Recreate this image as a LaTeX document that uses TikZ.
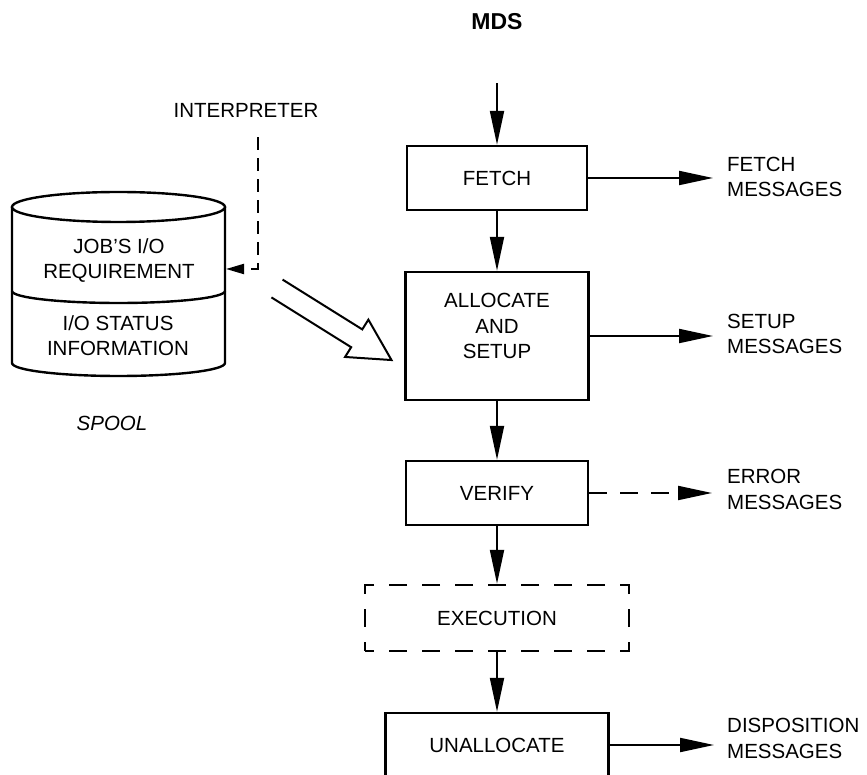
\documentclass[tikz,border=0pt]{standalone}
\usepackage{fontspec}
\setmainfont{Liberation Sans}
\usetikzlibrary{arrows.meta,backgrounds}

\begin{document}
\begin{tikzpicture}[x=1pt, y=1pt, background rectangle/.style={fill=white}, show background rectangle, inner frame sep=0pt,
  every node/.style={font=\fontsize{20.5}{25.5}\selectfont}]

  \useasboundingbox (0,0) rectangle (867,774);

  \edef\colx{497}
  \edef\msgx{727}
  \tikzstyle{stepbox}=[draw, line width=2.4pt, minimum height=64pt, inner sep=0pt]
  \tikzstyle{flow}=[line width=2pt, -{Triangle[length=34pt,width=14pt]}]
  \tikzstyle{msg}=[anchor=west, align=left, inner sep=0pt]

  % main column
  \node[inner sep=0pt, font=\fontsize{23}{28}\selectfont\bfseries] (mds) at (\colx,752) {MDS};
  \node[stepbox, minimum width=180pt] (fetch) at (\colx,596) {FETCH};
  \node[stepbox, minimum width=183pt, minimum height=128pt] (alloc) at (\colx,438) {};
  \node[align=center, inner sep=0pt] (alloctext) at (\colx,448) {ALLOCATE\\AND\\SETUP};
  \node[stepbox, minimum width=182pt] (verify) at (\colx,281) {VERIFY};
  \node[stepbox, minimum width=264pt, minimum height=66pt, dash pattern=on 18pt off 15pt, dash phase=9pt] (exec) at (\colx,156) {EXECUTION};
  \node[stepbox, minimum width=223pt] (unalloc) at (\colx,29) {UNALLOCATE};

  \draw[flow, shorten <=53pt] (mds) -- (fetch);
  \draw[flow] (fetch) -- (alloc);
  \draw[flow] (alloc) -- (verify);
  \draw[flow] (verify) -- (exec);
  \draw[flow] (exec) -- (unalloc);

  % messages on the right
  \node[msg] (fetchmsg) at (\msgx,597) {FETCH\\MESSAGES};
  \node[msg] (setupmsg) at (\msgx,440) {SETUP\\MESSAGES};
  \node[msg] (errormsg) at (\msgx,284.5) {ERROR\\MESSAGES};
  \node[msg] (dispmsg) at (\msgx,35.5) {DISPOSITION\\MESSAGES};

  \draw[flow, shorten >=14pt] (fetch.east) -- (fetch.east -| fetchmsg.west);
  \draw[flow, shorten >=14pt] (alloc.east) -- (alloc.east -| setupmsg.west);
  \draw[flow, shorten >=15pt, dash pattern=on 18pt off 13pt] (verify.east) -- (verify.east -| errormsg.west);
  \draw[flow, shorten >=13pt] (unalloc.east) -- (unalloc.east -| dispmsg.west);

  % spool
  \draw[line width=2.4pt] (118.5,567) ellipse (106.5 and 15);
  \draw[line width=2.4pt] (12,567) -- (12,411) arc[start angle=180, end angle=360, x radius=106.5, y radius=13] -- (225,567);
  \draw[line width=2.4pt] (12,483) arc[start angle=180, end angle=360, x radius=106.5, y radius=12];
  \node[align=center, inner sep=0pt] (jobreq) at (119,513.5) {JOB’S I/O\\REQUIREMENT};
  \node[align=center, inner sep=0pt] (iostatus) at (118,438.5) {I/O STATUS\\INFORMATION};
  \node[inner sep=0pt, font=\fontsize{20.5}{25.5}\selectfont\itshape] (spool) at (112,351) {SPOOL};

  % interpreter
  \node[inner sep=0pt] (interp) at (246,664) {INTERPRETER};
  \coordinate (interpbend) at (258,505);
  \coordinate (spoolin) at (226,505);
  \draw[line width=2pt, dash pattern=on 13pt off 8pt, shorten <=20pt, -{Triangle[length=18pt,width=10pt]}]
    (interp.south -| interpbend) -- (interpbend) -- (spoolin);

  % wide arrow into allocate
  \coordinate (spoolout) at (277,485.5);
  \begin{scope}[shift={(spoolout)}, rotate=-32]
    \draw[line width=2pt, line join=miter] (0,10.5) -- (94,10.5) -- (94,22) -- (135,0) -- (94,-22) -- (94,-10.5) -- (0,-10.5);
  \end{scope}
\end{tikzpicture}
\end{document}
